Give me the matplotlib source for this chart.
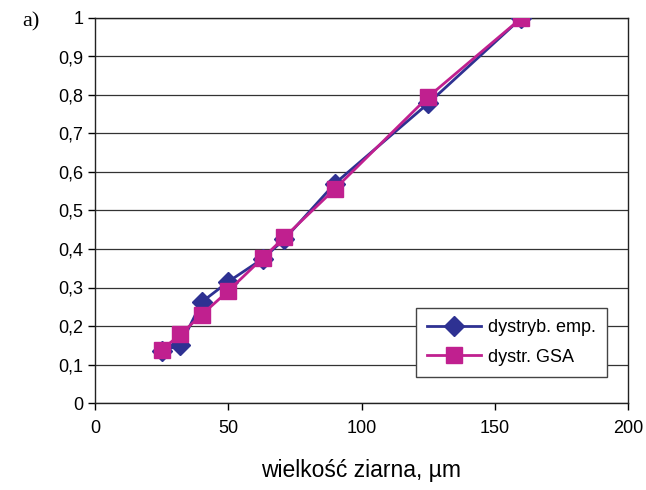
import matplotlib
matplotlib.use('Agg')
import matplotlib.pyplot as plt
from matplotlib.ticker import FuncFormatter, MultipleLocator

plt.rcParams['font.family'] = ['Liberation Sans', 'DejaVu Sans']

# grain size, um
grain_size = [25, 32, 40, 50, 63, 71, 90, 125, 160]
# empirical distribution
emp_values = [0.135, 0.15, 0.262, 0.315, 0.375, 0.425, 0.57, 0.778, 1.0]
# GSA distribution
gsa_values = [0.138, 0.178, 0.229, 0.291, 0.377, 0.43, 0.556, 0.795, 1.0]

fig = plt.figure(figsize=(6.46, 4.9), dpi=100)
ax = fig.add_axes([95 / 646, 1 - 403 / 490, 533 / 646, 385 / 490])

ax.plot(grain_size, emp_values, color='#2E3192', linewidth=2, marker='D',
        markersize=10, label='dystryb. emp.', zorder=3)
ax.plot(grain_size, gsa_values, color='#C0208F', linewidth=2, marker='s',
        markersize=12, label='dystr. GSA', zorder=4)

ax.set_xlim(0, 200)
ax.set_ylim(0, 1)
ax.xaxis.set_major_locator(MultipleLocator(50))
ax.yaxis.set_major_locator(MultipleLocator(0.1))
ax.yaxis.set_major_formatter(FuncFormatter(lambda v, p: ('%g' % round(v, 1)).replace('.', ',')))
ax.tick_params(axis='both', direction='out', length=5, labelsize=13, colors='black', width=1)
ax.tick_params(axis='x', pad=7)
ax.grid(axis='y', color='#333333', linewidth=0.9)
for s in ax.spines.values():
    s.set_color('#222222')
    s.set_linewidth(1)

ax.set_xlabel('wielkość ziarna, µm', fontsize=16.5, labelpad=16)

leg = ax.legend(loc='lower right', bbox_to_anchor=(0.977, 0.045), fontsize=13,
                frameon=True, fancybox=False, edgecolor='#444444', framealpha=1,
                handlelength=3.0, borderpad=0.6, labelspacing=0.7, handletextpad=0.4)
leg.get_frame().set_linewidth(1)

fig.text(22 / 646, 1 - 22 / 490, 'a)', fontsize=16, family='Liberation Serif',
         va='center', ha='left')

fig.savefig('out.png', dpi=100)
